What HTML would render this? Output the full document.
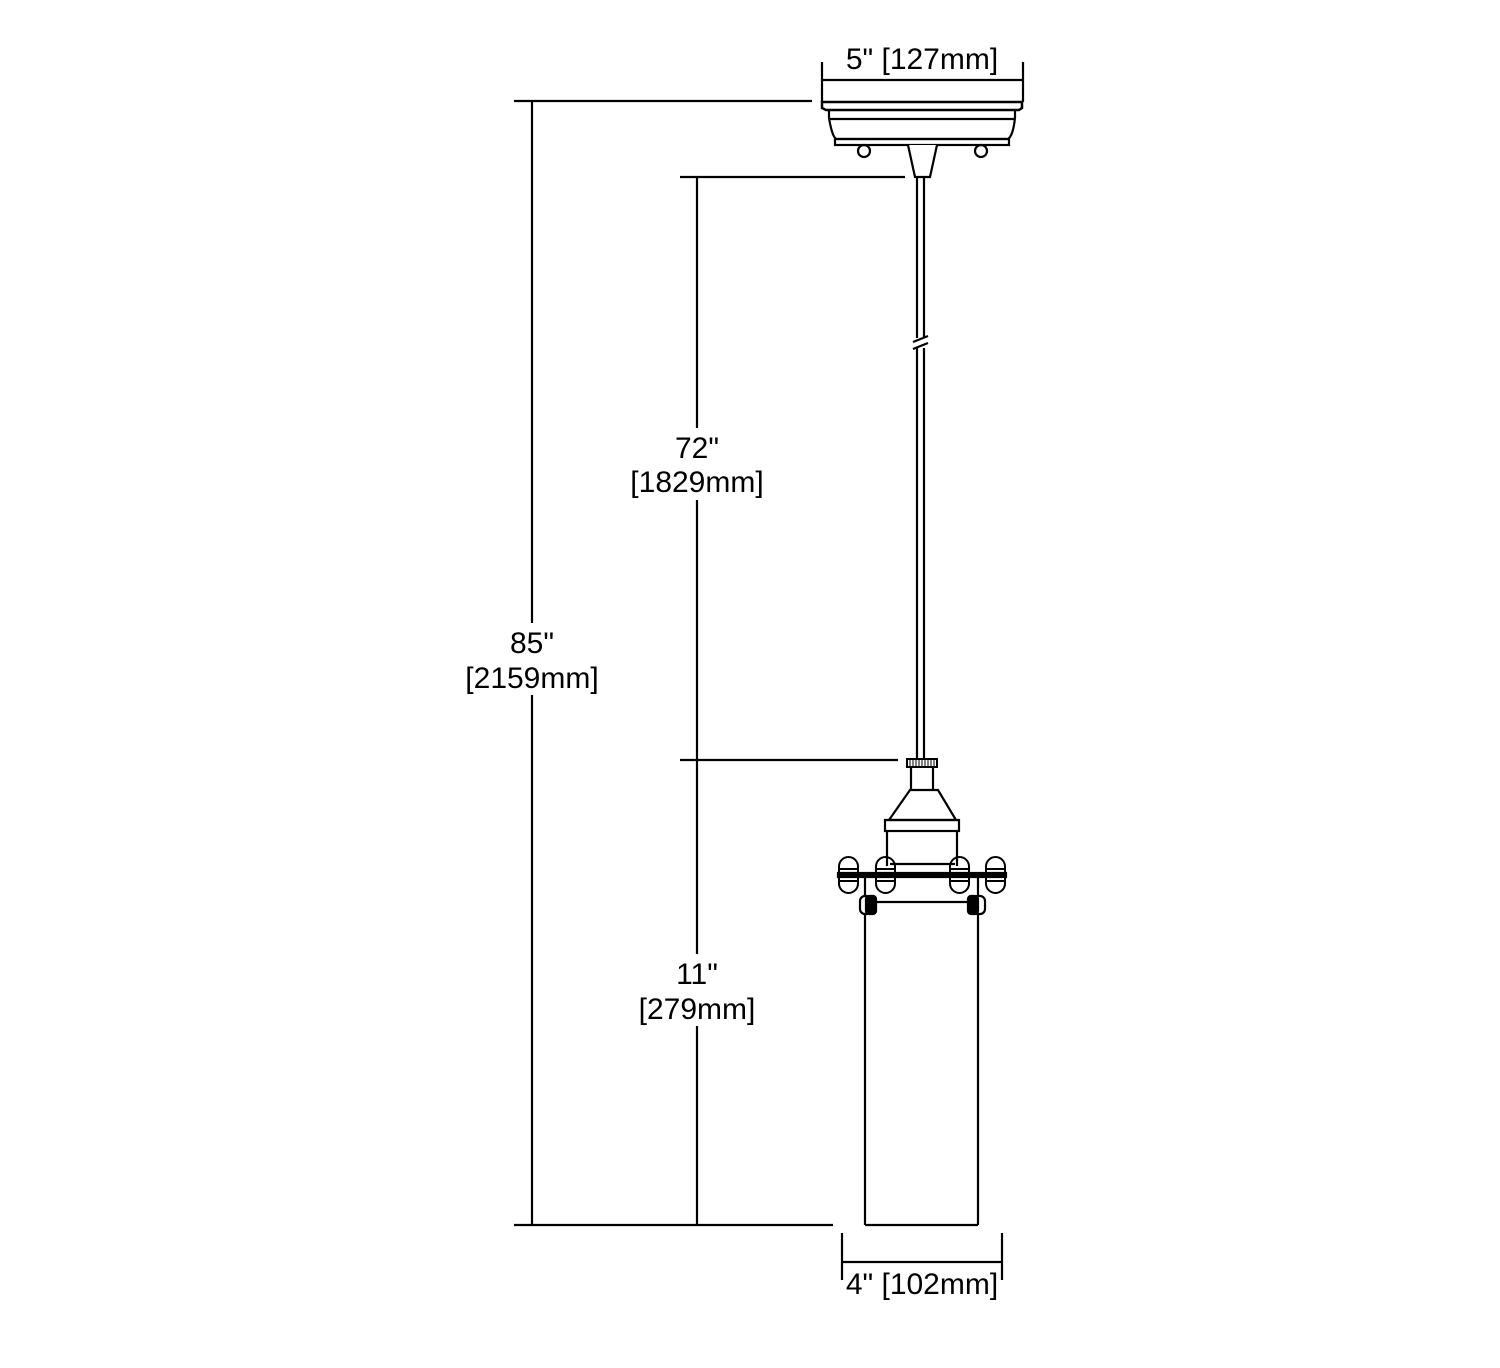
<!DOCTYPE html>
<html><head><style>html,body{margin:0;padding:0;background:#fff}svg{display:block}</style></head>
<body>
<svg width="1500" height="1368" viewBox="0 0 1500 1368" xmlns="http://www.w3.org/2000/svg" font-family="Liberation Sans, sans-serif" font-size="30" fill="none" stroke="#000" stroke-width="2.2">
<!-- dimension lines -->
<line x1="514" y1="101" x2="812" y2="101"/>
<line x1="514" y1="1225" x2="833" y2="1225"/>
<line x1="532" y1="101" x2="532" y2="1225"/>
<line x1="680" y1="177" x2="905" y2="177"/>
<line x1="680" y1="760" x2="898" y2="760"/>
<line x1="697" y1="177" x2="697" y2="1225"/>
<!-- top width dim -->
<line x1="822" y1="62" x2="822" y2="102"/>
<line x1="1023" y1="62" x2="1023" y2="102"/>
<line x1="822" y1="80" x2="1023" y2="80"/>
<!-- bottom width dim -->
<line x1="842" y1="1233" x2="842" y2="1280"/>
<line x1="1002" y1="1233" x2="1002" y2="1280"/>
<line x1="842" y1="1262" x2="1002" y2="1262"/>
<!-- canopy -->
<path d="M822 102 L1022 102 L1022 108 L1019 110 L826 110 L822 108 Z" stroke-width="2.5"/>
<path d="M829 110 L829 118 Q832 136 836 139 L1008 139 Q1013 136 1015 118 L1015 110"/>
<line x1="829" y1="119" x2="1015" y2="119"/>
<rect x="835" y="139" width="174" height="6"/>
<circle cx="864" cy="151" r="6"/>
<circle cx="981" cy="151" r="6"/>
<path d="M908 145 L915 177 L930 177 L937 145" fill="#fff"/>
<!-- cord -->
<line x1="917" y1="177" x2="917" y2="760"/>
<line x1="924" y1="177" x2="924" y2="760"/>
<rect x="912" y="338" width="17" height="10" fill="#fff" stroke="none"/>
<line x1="913" y1="342" x2="928" y2="336"/>
<line x1="913" y1="349" x2="928" y2="343"/>
<!-- fitter -->
<rect x="907" y="759" width="30" height="8" fill="#fff" stroke-width="2"/>
<path d="M910 759v8M913 759v8M916 759v8M919 759v8M922 759v8M925 759v8M928 759v8M931 759v8M934 759v8" stroke-width="1"/>
<path d="M911 767 L911 790 M933 767 L933 790"/>
<path d="M910 790 L938 790 L956 820 L889 820 Z"/>
<rect x="885" y="820" width="74" height="11"/>
<path d="M887 831 L887 866 M957 831 L957 866"/>
<line x1="890" y1="864" x2="955" y2="864"/>
<!-- bar -->
<rect x="838" y="873" width="168" height="4" fill="#000"/>
<g stroke-width="2">
<rect x="839" y="857" width="19" height="36" rx="9.5" fill="none"/>
<rect x="876" y="857" width="19" height="36" rx="9.5" fill="none"/>
<rect x="950" y="857" width="19" height="36" rx="9.5" fill="none"/>
<rect x="986" y="857" width="19" height="36" rx="9.5" fill="none"/>
<path d="M839 869h19M839 881h19M876 869h19M876 881h19M950 869h19M950 881h19M986 869h19M986 881h19"/>
</g>
<!-- arms -->
<line x1="865" y1="877" x2="865" y2="1225"/>
<line x1="978" y1="877" x2="978" y2="1225"/>
<line x1="870" y1="902" x2="975" y2="902"/>
<line x1="865" y1="1225" x2="978" y2="1225"/>
<rect x="860" y="896" width="12" height="18" rx="5" fill="#fff"/>
<rect x="866" y="896" width="10" height="18" rx="3" fill="#000"/>
<rect x="973" y="896" width="12" height="18" rx="5" fill="#fff"/>
<rect x="968" y="896" width="10" height="18" rx="3" fill="#000"/>
<!-- labels -->
<g stroke="none" fill="#000" text-anchor="middle">
<rect x="625" y="428" width="144" height="72" fill="#fff"/>
<text x="697" y="458">72"</text><text x="697" y="492">[1829mm]</text>
<rect x="460" y="623" width="144" height="72" fill="#fff"/>
<text x="532" y="653">85"</text><text x="532" y="688">[2159mm]</text>
<rect x="631" y="954" width="132" height="72" fill="#fff"/>
<text x="697" y="984">11"</text><text x="697" y="1019">[279mm]</text>
<text x="922" y="69">5" [127mm]</text>
<text x="922" y="1294">4" [102mm]</text>
</g>
</svg>
</body></html>
